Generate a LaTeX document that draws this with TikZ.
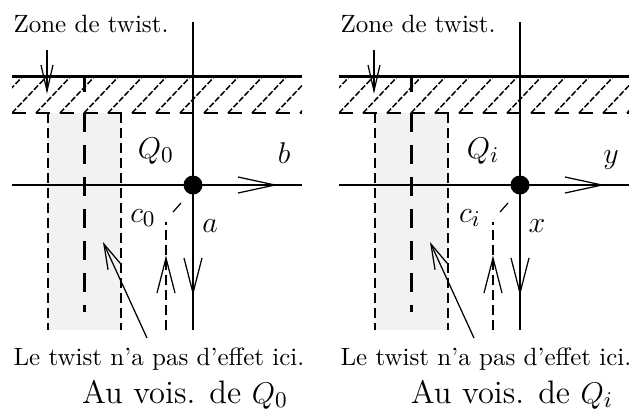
\documentclass[tikz,border=0pt]{standalone}
\usetikzlibrary{arrows.meta}
\begin{document}
\begin{tikzpicture}[x=0.4pt,y=-0.4pt,
  thinln/.style={line width=0.5pt},
  thickln/.style={line width=1.2pt},
  dsh/.style={line width=0.5pt,dash pattern=on 4pt off 2pt},
  hatchln/.style={line width=0.6pt,dash pattern=on 2.4pt off 0.8pt},
  twistln/.style={line width=1.2pt,dash pattern=on 7.6pt off 5.2pt},
  barb/.style={-{Straight Barb[length=10pt,width=5.6pt]}},
  lbl/.style={font=\fontsize{12.5}{15}\selectfont, inner sep=0pt},
  captxt/.style={font=\fontsize{13}{16}\selectfont, inner sep=0pt},
  txt/.style={font=\normalsize, inner sep=0pt}]
\useasboundingbox (0,0) rectangle (633,409);
\foreach \o/\p/\Q/\h/\v/\c in {0/L/Q_0/b/a/c_0, 327/R/Q_i/y/x/c_i}{
\begin{scope}[shift={(\o,0)}]
  % shaded zone
  \fill[gray!10] (48,113) rectangle (121,330);
  \draw[dsh] (48,113) -- (48,330);
  \draw[dsh] (121,113) -- (121,330);
  % hatched band
  \begin{scope}
    \clip (12,77) rectangle (302,113);
    \foreach \k in {-2,...,12} \draw[hatchln] (12+24*\k,113) -- ++(36,-38);
  \end{scope}
  \draw[thinln, dash pattern=on 5.6pt off 4pt] (12,113) -- (302,113);
  \draw[thickln] (12,76) -- (302,76);
  % twist line
  \draw[thickln] (84,76) -- (84,92);
  \draw[twistln] (84,113) -- (84,312);
  % small arrow to the twist zone
  \coordinate (za\p) at (47,50);
  \coordinate (zb\p) at (47,91);
  \draw[thinln] (za\p) -- (zb\p);
  \draw[thinln] (41,65) -- (zb\p) -- (53,65);
  % axes
  \coordinate (vt\p) at (193,22);
  \coordinate (vb\p) at (193,330);
  \coordinate (hl\p) at (12,185);
  \coordinate (hr\p) at (302,185);
  \draw[thinln] (vt\p) -- (vb\p);
  \draw[thinln] (hl\p) -- (hr\p);
  \draw[thinln] (238,177) -- (275,185) -- (238,193);
  \draw[thinln] (184,258) -- (193,293) -- (202,258);
  % dashed path c
  \draw[dsh] (166,330) -- (166,222);
  \draw[thinln] (173,212) -- (181,203);
  \draw[thinln] (157,293) -- (166,258) -- (175,293);
  % point
  \node[circle, fill=black, inner sep=0pt, minimum size=7.6pt] (pt\p) at (193,185) {};
  % labels
  \node[lbl, anchor=base] (q\p) at (156,158) {$\Q$};
  \node[lbl, anchor=base] (h\p) at (284,163) {$\h$};
  \node[lbl, anchor=base] (c\p) at (143,222) {$\c$};
  \node[lbl, anchor=base] (v\p) at (210,232) {$\v$};
  % texts
  \node[txt, anchor=base west] (zone\p) at (13,32) {Zone de twist.};
  \node[txt, anchor=base west] (note\p) at (13,365) {Le twist n'a pas d'effet ici.};
  \node[captxt, anchor=base] (cap\p) at (185,403) {Au vois. de $\Q$};
  \coordinate (ta\p) at (147,338);
  \coordinate (tb\p) at (103,242);
  \draw[thinln, barb] (ta\p) -- (tb\p);
\end{scope}}
\end{tikzpicture}
\end{document}
